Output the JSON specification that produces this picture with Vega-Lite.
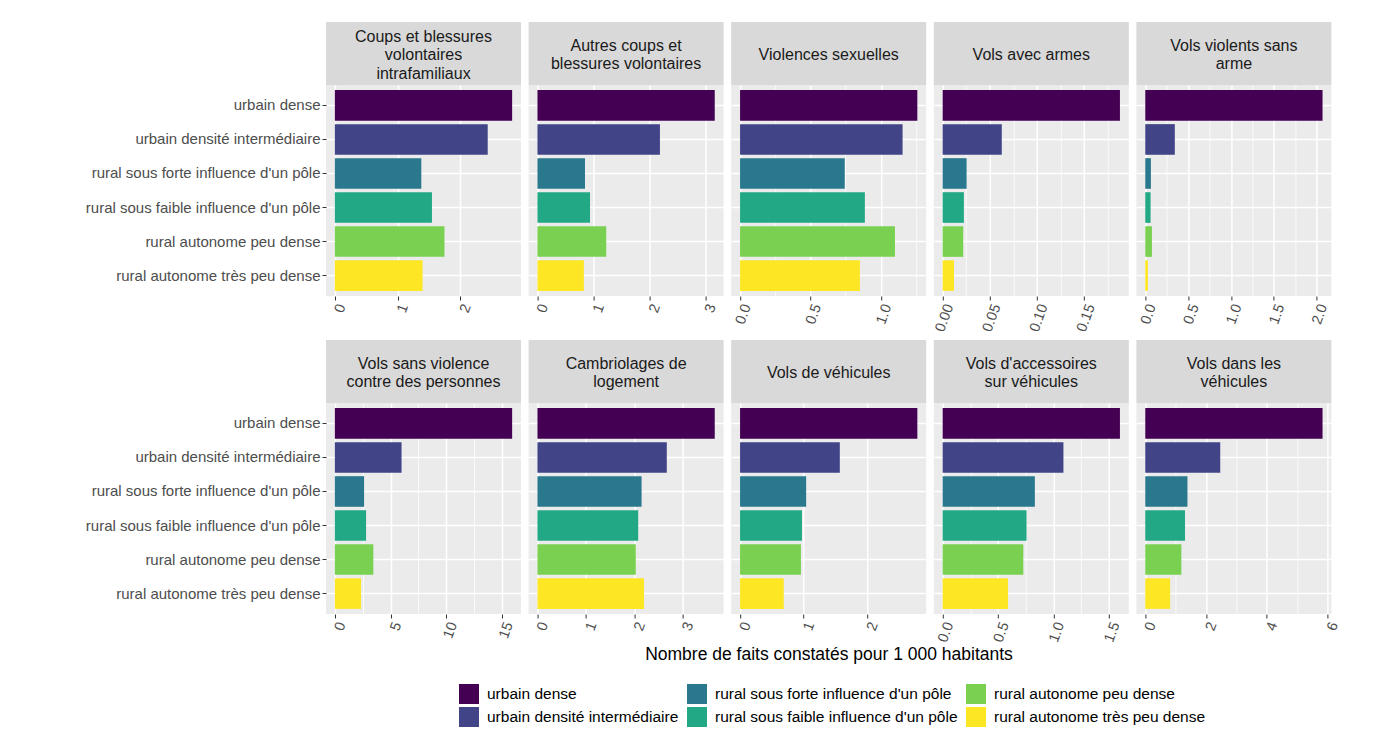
{
"$schema":"https://vega.github.io/schema/vega-lite/v6.json",
"padding":{"left":85,"top":22,"right":5,"bottom":5},
"background":"white",
"data":{"values":[
{"crime":"Coups et blessures volontaires intrafamiliaux","zone":"urbain dense","value":2.83},
{"crime":"Coups et blessures volontaires intrafamiliaux","zone":"urbain densité intermédiaire","value":2.44},
{"crime":"Coups et blessures volontaires intrafamiliaux","zone":"rural sous forte influence d'un pôle","value":1.38},
{"crime":"Coups et blessures volontaires intrafamiliaux","zone":"rural sous faible influence d'un pôle","value":1.55},
{"crime":"Coups et blessures volontaires intrafamiliaux","zone":"rural autonome peu dense","value":1.75},
{"crime":"Coups et blessures volontaires intrafamiliaux","zone":"rural autonome très peu dense","value":1.40},
{"crime":"Autres coups et blessures volontaires","zone":"urbain dense","value":3.17},
{"crime":"Autres coups et blessures volontaires","zone":"urbain densité intermédiaire","value":2.19},
{"crime":"Autres coups et blessures volontaires","zone":"rural sous forte influence d'un pôle","value":0.85},
{"crime":"Autres coups et blessures volontaires","zone":"rural sous faible influence d'un pôle","value":0.94},
{"crime":"Autres coups et blessures volontaires","zone":"rural autonome peu dense","value":1.23},
{"crime":"Autres coups et blessures volontaires","zone":"rural autonome très peu dense","value":0.83},
{"crime":"Violences sexuelles","zone":"urbain dense","value":1.26},
{"crime":"Violences sexuelles","zone":"urbain densité intermédiaire","value":1.155},
{"crime":"Violences sexuelles","zone":"rural sous forte influence d'un pôle","value":0.744},
{"crime":"Violences sexuelles","zone":"rural sous faible influence d'un pôle","value":0.887},
{"crime":"Violences sexuelles","zone":"rural autonome peu dense","value":1.101},
{"crime":"Violences sexuelles","zone":"rural autonome très peu dense","value":0.852},
{"crime":"Vols avec armes","zone":"urbain dense","value":0.188},
{"crime":"Vols avec armes","zone":"urbain densité intermédiaire","value":0.0627},
{"crime":"Vols avec armes","zone":"rural sous forte influence d'un pôle","value":0.0254},
{"crime":"Vols avec armes","zone":"rural sous faible influence d'un pôle","value":0.0225},
{"crime":"Vols avec armes","zone":"rural autonome peu dense","value":0.0218},
{"crime":"Vols avec armes","zone":"rural autonome très peu dense","value":0.012},
{"crime":"Vols violents sans arme","zone":"urbain dense","value":2.07},
{"crime":"Vols violents sans arme","zone":"urbain densité intermédiaire","value":0.345},
{"crime":"Vols violents sans arme","zone":"rural sous forte influence d'un pôle","value":0.066},
{"crime":"Vols violents sans arme","zone":"rural sous faible influence d'un pôle","value":0.062},
{"crime":"Vols violents sans arme","zone":"rural autonome peu dense","value":0.078},
{"crime":"Vols violents sans arme","zone":"rural autonome très peu dense","value":0.031},
{"crime":"Vols sans violence contre des personnes","zone":"urbain dense","value":15.9},
{"crime":"Vols sans violence contre des personnes","zone":"urbain densité intermédiaire","value":5.98},
{"crime":"Vols sans violence contre des personnes","zone":"rural sous forte influence d'un pôle","value":2.62},
{"crime":"Vols sans violence contre des personnes","zone":"rural sous faible influence d'un pôle","value":2.80},
{"crime":"Vols sans violence contre des personnes","zone":"rural autonome peu dense","value":3.45},
{"crime":"Vols sans violence contre des personnes","zone":"rural autonome très peu dense","value":2.35},
{"crime":"Cambriolages de logement","zone":"urbain dense","value":3.66},
{"crime":"Cambriolages de logement","zone":"urbain densité intermédiaire","value":2.67},
{"crime":"Cambriolages de logement","zone":"rural sous forte influence d'un pôle","value":2.15},
{"crime":"Cambriolages de logement","zone":"rural sous faible influence d'un pôle","value":2.08},
{"crime":"Cambriolages de logement","zone":"rural autonome peu dense","value":2.03},
{"crime":"Cambriolages de logement","zone":"rural autonome très peu dense","value":2.20},
{"crime":"Vols de véhicules","zone":"urbain dense","value":2.79},
{"crime":"Vols de véhicules","zone":"urbain densité intermédiaire","value":1.57},
{"crime":"Vols de véhicules","zone":"rural sous forte influence d'un pôle","value":1.04},
{"crime":"Vols de véhicules","zone":"rural sous faible influence d'un pôle","value":0.974},
{"crime":"Vols de véhicules","zone":"rural autonome peu dense","value":0.958},
{"crime":"Vols de véhicules","zone":"rural autonome très peu dense","value":0.688},
{"crime":"Vols d'accessoires sur véhicules","zone":"urbain dense","value":1.60},
{"crime":"Vols d'accessoires sur véhicules","zone":"urbain densité intermédiaire","value":1.09},
{"crime":"Vols d'accessoires sur véhicules","zone":"rural sous forte influence d'un pôle","value":0.832},
{"crime":"Vols d'accessoires sur véhicules","zone":"rural sous faible influence d'un pôle","value":0.757},
{"crime":"Vols d'accessoires sur véhicules","zone":"rural autonome peu dense","value":0.728},
{"crime":"Vols d'accessoires sur véhicules","zone":"rural autonome très peu dense","value":0.590},
{"crime":"Vols dans les véhicules","zone":"urbain dense","value":5.84},
{"crime":"Vols dans les véhicules","zone":"urbain densité intermédiaire","value":2.47},
{"crime":"Vols dans les véhicules","zone":"rural sous forte influence d'un pôle","value":1.39},
{"crime":"Vols dans les véhicules","zone":"rural sous faible influence d'un pôle","value":1.31},
{"crime":"Vols dans les véhicules","zone":"rural autonome peu dense","value":1.19},
{"crime":"Vols dans les véhicules","zone":"rural autonome très peu dense","value":0.82}
]},
"spacing":0,
"vconcat":[
{"hconcat":[
{"width":195,"height":63,"view":{"fill":"#D9D9D9","stroke":null},"transform":[{"filter":{"and":[{"field":"crime","equal":"Coups et blessures volontaires intrafamiliaux"},{"field":"zone","equal":"urbain dense"}]}}],"mark":{"type":"text","fontSize":16,"color":"#1A1A1A","lineHeight":18.5,"align":"center","baseline":"middle","dy":-17},"encoding":{"text":{"value":["Coups et blessures","volontaires","intrafamiliaux"]}}},
{"width":195,"height":63,"view":{"fill":"#D9D9D9","stroke":null},"transform":[{"filter":{"and":[{"field":"crime","equal":"Autres coups et blessures volontaires"},{"field":"zone","equal":"urbain dense"}]}}],"mark":{"type":"text","fontSize":16,"color":"#1A1A1A","lineHeight":18.5,"align":"center","baseline":"middle","dy":-8},"encoding":{"text":{"value":["Autres coups et","blessures volontaires"]}}},
{"width":195,"height":63,"view":{"fill":"#D9D9D9","stroke":null},"transform":[{"filter":{"and":[{"field":"crime","equal":"Violences sexuelles"},{"field":"zone","equal":"urbain dense"}]}}],"mark":{"type":"text","fontSize":16,"color":"#1A1A1A","lineHeight":18.5,"align":"center","baseline":"middle","dy":1},"encoding":{"text":{"value":"Violences sexuelles"}}},
{"width":195,"height":63,"view":{"fill":"#D9D9D9","stroke":null},"transform":[{"filter":{"and":[{"field":"crime","equal":"Vols avec armes"},{"field":"zone","equal":"urbain dense"}]}}],"mark":{"type":"text","fontSize":16,"color":"#1A1A1A","lineHeight":18.5,"align":"center","baseline":"middle","dy":1},"encoding":{"text":{"value":"Vols avec armes"}}},
{"width":195,"height":63,"view":{"fill":"#D9D9D9","stroke":null},"transform":[{"filter":{"and":[{"field":"crime","equal":"Vols violents sans arme"},{"field":"zone","equal":"urbain dense"}]}}],"mark":{"type":"text","fontSize":16,"color":"#1A1A1A","lineHeight":18.5,"align":"center","baseline":"middle","dy":-8},"encoding":{"text":{"value":["Vols violents sans","arme"]}}}
],"spacing":7.6,"bounds":"flush"},
{"hconcat":[
{"width":195,"height":211,"view":{"fill":"#EBEBEB","stroke":null},"transform":[{"filter":{"field":"crime","equal":"Coups et blessures volontaires intrafamiliaux"}}],"mark":{"type":"bar"},
"encoding":{"y":{"field":"zone","type":"nominal","sort":["urbain dense","urbain densité intermédiaire","rural sous forte influence d'un pôle","rural sous faible influence d'un pôle","rural autonome peu dense","rural autonome très peu dense"],"scale":{"paddingInner":0.1,"paddingOuter":0.15},"axis":{"title":null,"bandPosition":0.5}},
"x":{"field":"value","type":"quantitative","scale":{"zero":true,"nice":false,"padding":8.86},"axis":{"title":null,"minExtent":44,"values":[0,0.5,1,1.5,2,2.5],"format":"d","labelExpr":"indexof([0,1,2],datum.value)<0?'':datum.label","tickOpacity":{"condition":{"test":"indexof([0,1,2],datum.value)<0","value":0},"value":1},"gridWidth":{"condition":{"test":"indexof([0,1,2],datum.value)<0","value":0.75},"value":1.5}}},
"color":{"field":"zone","type":"nominal","scale":{"domain":["urbain dense","rural sous forte influence d'un pôle","rural autonome peu dense","urbain densité intermédiaire","rural sous faible influence d'un pôle","rural autonome très peu dense"],"range":["#440154","#2A788E","#7AD151","#414487","#22A884","#FDE725"]},"legend":{"title":null}}}},
{"width":195,"height":211,"view":{"fill":"#EBEBEB","stroke":null},"transform":[{"filter":{"field":"crime","equal":"Autres coups et blessures volontaires"}}],"mark":{"type":"bar"},
"encoding":{"y":{"field":"zone","type":"nominal","sort":["urbain dense","urbain densité intermédiaire","rural sous forte influence d'un pôle","rural sous faible influence d'un pôle","rural autonome peu dense","rural autonome très peu dense"],"scale":{"paddingInner":0.1,"paddingOuter":0.15},"axis":{"title":null,"bandPosition":0.5,"labels":false,"ticks":false}},
"x":{"field":"value","type":"quantitative","scale":{"zero":true,"nice":false,"padding":8.86},"axis":{"title":null,"minExtent":44,"values":[0,0.5,1,1.5,2,2.5,3],"format":"d","labelExpr":"indexof([0,1,2,3],datum.value)<0?'':datum.label","tickOpacity":{"condition":{"test":"indexof([0,1,2,3],datum.value)<0","value":0},"value":1},"gridWidth":{"condition":{"test":"indexof([0,1,2,3],datum.value)<0","value":0.75},"value":1.5}}},
"color":{"field":"zone","type":"nominal","scale":{"domain":["urbain dense","rural sous forte influence d'un pôle","rural autonome peu dense","urbain densité intermédiaire","rural sous faible influence d'un pôle","rural autonome très peu dense"],"range":["#440154","#2A788E","#7AD151","#414487","#22A884","#FDE725"]},"legend":{"title":null}}}},
{"width":195,"height":211,"view":{"fill":"#EBEBEB","stroke":null},"transform":[{"filter":{"field":"crime","equal":"Violences sexuelles"}}],"mark":{"type":"bar"},
"encoding":{"y":{"field":"zone","type":"nominal","sort":["urbain dense","urbain densité intermédiaire","rural sous forte influence d'un pôle","rural sous faible influence d'un pôle","rural autonome peu dense","rural autonome très peu dense"],"scale":{"paddingInner":0.1,"paddingOuter":0.15},"axis":{"title":null,"bandPosition":0.5,"labels":false,"ticks":false}},
"x":{"field":"value","type":"quantitative","scale":{"zero":true,"nice":false,"padding":8.86},"axis":{"title":null,"minExtent":44,"values":[0,0.25,0.5,0.75,1,1.25],"format":".1f","labelExpr":"indexof([0,0.5,1],datum.value)<0?'':datum.label","tickOpacity":{"condition":{"test":"indexof([0,0.5,1],datum.value)<0","value":0},"value":1},"gridWidth":{"condition":{"test":"indexof([0,0.5,1],datum.value)<0","value":0.75},"value":1.5}}},
"color":{"field":"zone","type":"nominal","scale":{"domain":["urbain dense","rural sous forte influence d'un pôle","rural autonome peu dense","urbain densité intermédiaire","rural sous faible influence d'un pôle","rural autonome très peu dense"],"range":["#440154","#2A788E","#7AD151","#414487","#22A884","#FDE725"]},"legend":{"title":null}}}},
{"width":195,"height":211,"view":{"fill":"#EBEBEB","stroke":null},"transform":[{"filter":{"field":"crime","equal":"Vols avec armes"}}],"mark":{"type":"bar"},
"encoding":{"y":{"field":"zone","type":"nominal","sort":["urbain dense","urbain densité intermédiaire","rural sous forte influence d'un pôle","rural sous faible influence d'un pôle","rural autonome peu dense","rural autonome très peu dense"],"scale":{"paddingInner":0.1,"paddingOuter":0.15},"axis":{"title":null,"bandPosition":0.5,"labels":false,"ticks":false}},
"x":{"field":"value","type":"quantitative","scale":{"zero":true,"nice":false,"padding":8.86},"axis":{"title":null,"minExtent":44,"values":[0,0.025,0.05,0.075,0.1,0.125,0.15,0.175],"format":".2f","labelExpr":"indexof([0,0.05,0.1,0.15],datum.value)<0?'':datum.label","tickOpacity":{"condition":{"test":"indexof([0,0.05,0.1,0.15],datum.value)<0","value":0},"value":1},"gridWidth":{"condition":{"test":"indexof([0,0.05,0.1,0.15],datum.value)<0","value":0.75},"value":1.5}}},
"color":{"field":"zone","type":"nominal","scale":{"domain":["urbain dense","rural sous forte influence d'un pôle","rural autonome peu dense","urbain densité intermédiaire","rural sous faible influence d'un pôle","rural autonome très peu dense"],"range":["#440154","#2A788E","#7AD151","#414487","#22A884","#FDE725"]},"legend":{"title":null}}}},
{"width":195,"height":211,"view":{"fill":"#EBEBEB","stroke":null},"transform":[{"filter":{"field":"crime","equal":"Vols violents sans arme"}}],"mark":{"type":"bar"},
"encoding":{"y":{"field":"zone","type":"nominal","sort":["urbain dense","urbain densité intermédiaire","rural sous forte influence d'un pôle","rural sous faible influence d'un pôle","rural autonome peu dense","rural autonome très peu dense"],"scale":{"paddingInner":0.1,"paddingOuter":0.15},"axis":{"title":null,"bandPosition":0.5,"labels":false,"ticks":false}},
"x":{"field":"value","type":"quantitative","scale":{"zero":true,"nice":false,"padding":8.86},"axis":{"title":null,"minExtent":44,"values":[0,0.25,0.5,0.75,1,1.25,1.5,1.75,2],"format":".1f","labelExpr":"indexof([0,0.5,1,1.5,2],datum.value)<0?'':datum.label","tickOpacity":{"condition":{"test":"indexof([0,0.5,1,1.5,2],datum.value)<0","value":0},"value":1},"gridWidth":{"condition":{"test":"indexof([0,0.5,1,1.5,2],datum.value)<0","value":0.75},"value":1.5}}},
"color":{"field":"zone","type":"nominal","scale":{"domain":["urbain dense","rural sous forte influence d'un pôle","rural autonome peu dense","urbain densité intermédiaire","rural sous faible influence d'un pôle","rural autonome très peu dense"],"range":["#440154","#2A788E","#7AD151","#414487","#22A884","#FDE725"]},"legend":{"title":null}}}}
],"spacing":7.6,"bounds":"flush"},
{"hconcat":[
{"width":195,"height":63,"view":{"fill":"#D9D9D9","stroke":null},"transform":[{"filter":{"and":[{"field":"crime","equal":"Vols sans violence contre des personnes"},{"field":"zone","equal":"urbain dense"}]}}],"mark":{"type":"text","fontSize":16,"color":"#1A1A1A","lineHeight":18.5,"align":"center","baseline":"middle","dy":-8},"encoding":{"text":{"value":["Vols sans violence","contre des personnes"]}}},
{"width":195,"height":63,"view":{"fill":"#D9D9D9","stroke":null},"transform":[{"filter":{"and":[{"field":"crime","equal":"Cambriolages de logement"},{"field":"zone","equal":"urbain dense"}]}}],"mark":{"type":"text","fontSize":16,"color":"#1A1A1A","lineHeight":18.5,"align":"center","baseline":"middle","dy":-8},"encoding":{"text":{"value":["Cambriolages de","logement"]}}},
{"width":195,"height":63,"view":{"fill":"#D9D9D9","stroke":null},"transform":[{"filter":{"and":[{"field":"crime","equal":"Vols de véhicules"},{"field":"zone","equal":"urbain dense"}]}}],"mark":{"type":"text","fontSize":16,"color":"#1A1A1A","lineHeight":18.5,"align":"center","baseline":"middle","dy":1},"encoding":{"text":{"value":"Vols de véhicules"}}},
{"width":195,"height":63,"view":{"fill":"#D9D9D9","stroke":null},"transform":[{"filter":{"and":[{"field":"crime","equal":"Vols d'accessoires sur véhicules"},{"field":"zone","equal":"urbain dense"}]}}],"mark":{"type":"text","fontSize":16,"color":"#1A1A1A","lineHeight":18.5,"align":"center","baseline":"middle","dy":-8},"encoding":{"text":{"value":["Vols d'accessoires","sur véhicules"]}}},
{"width":195,"height":63,"view":{"fill":"#D9D9D9","stroke":null},"transform":[{"filter":{"and":[{"field":"crime","equal":"Vols dans les véhicules"},{"field":"zone","equal":"urbain dense"}]}}],"mark":{"type":"text","fontSize":16,"color":"#1A1A1A","lineHeight":18.5,"align":"center","baseline":"middle","dy":-8},"encoding":{"text":{"value":["Vols dans les","véhicules"]}}}
],"spacing":7.6,"bounds":"flush"},
{"hconcat":[
{"width":195,"height":211,"view":{"fill":"#EBEBEB","stroke":null},"transform":[{"filter":{"field":"crime","equal":"Vols sans violence contre des personnes"}}],"mark":{"type":"bar"},
"encoding":{"y":{"field":"zone","type":"nominal","sort":["urbain dense","urbain densité intermédiaire","rural sous forte influence d'un pôle","rural sous faible influence d'un pôle","rural autonome peu dense","rural autonome très peu dense"],"scale":{"paddingInner":0.1,"paddingOuter":0.15},"axis":{"title":null,"bandPosition":0.5}},
"x":{"field":"value","type":"quantitative","scale":{"zero":true,"nice":false,"padding":8.86},"axis":{"title":null,"minExtent":31,"values":[0,2.5,5,7.5,10,12.5,15],"format":"d","labelExpr":"indexof([0,5,10,15],datum.value)<0?'':datum.label","tickOpacity":{"condition":{"test":"indexof([0,5,10,15],datum.value)<0","value":0},"value":1},"gridWidth":{"condition":{"test":"indexof([0,5,10,15],datum.value)<0","value":0.75},"value":1.5}}},
"color":{"field":"zone","type":"nominal","scale":{"domain":["urbain dense","rural sous forte influence d'un pôle","rural autonome peu dense","urbain densité intermédiaire","rural sous faible influence d'un pôle","rural autonome très peu dense"],"range":["#440154","#2A788E","#7AD151","#414487","#22A884","#FDE725"]},"legend":{"title":null}}}},
{"width":195,"height":211,"view":{"fill":"#EBEBEB","stroke":null},"transform":[{"filter":{"field":"crime","equal":"Cambriolages de logement"}}],"mark":{"type":"bar"},
"encoding":{"y":{"field":"zone","type":"nominal","sort":["urbain dense","urbain densité intermédiaire","rural sous forte influence d'un pôle","rural sous faible influence d'un pôle","rural autonome peu dense","rural autonome très peu dense"],"scale":{"paddingInner":0.1,"paddingOuter":0.15},"axis":{"title":null,"bandPosition":0.5,"labels":false,"ticks":false}},
"x":{"field":"value","type":"quantitative","scale":{"zero":true,"nice":false,"padding":8.86},"axis":{"title":null,"minExtent":31,"values":[0,0.5,1,1.5,2,2.5,3,3.5],"format":"d","labelExpr":"indexof([0,1,2,3],datum.value)<0?'':datum.label","tickOpacity":{"condition":{"test":"indexof([0,1,2,3],datum.value)<0","value":0},"value":1},"gridWidth":{"condition":{"test":"indexof([0,1,2,3],datum.value)<0","value":0.75},"value":1.5}}},
"color":{"field":"zone","type":"nominal","scale":{"domain":["urbain dense","rural sous forte influence d'un pôle","rural autonome peu dense","urbain densité intermédiaire","rural sous faible influence d'un pôle","rural autonome très peu dense"],"range":["#440154","#2A788E","#7AD151","#414487","#22A884","#FDE725"]},"legend":{"title":null}}}},
{"width":195,"height":211,"view":{"fill":"#EBEBEB","stroke":null},"transform":[{"filter":{"field":"crime","equal":"Vols de véhicules"}}],"mark":{"type":"bar"},
"encoding":{"y":{"field":"zone","type":"nominal","sort":["urbain dense","urbain densité intermédiaire","rural sous forte influence d'un pôle","rural sous faible influence d'un pôle","rural autonome peu dense","rural autonome très peu dense"],"scale":{"paddingInner":0.1,"paddingOuter":0.15},"axis":{"title":null,"bandPosition":0.5,"labels":false,"ticks":false}},
"x":{"field":"value","type":"quantitative","scale":{"zero":true,"nice":false,"padding":8.86},"axis":{"title":null,"minExtent":31,"values":[0,0.5,1,1.5,2,2.5],"format":"d","labelExpr":"indexof([0,1,2],datum.value)<0?'':datum.label","tickOpacity":{"condition":{"test":"indexof([0,1,2],datum.value)<0","value":0},"value":1},"gridWidth":{"condition":{"test":"indexof([0,1,2],datum.value)<0","value":0.75},"value":1.5}}},
"color":{"field":"zone","type":"nominal","scale":{"domain":["urbain dense","rural sous forte influence d'un pôle","rural autonome peu dense","urbain densité intermédiaire","rural sous faible influence d'un pôle","rural autonome très peu dense"],"range":["#440154","#2A788E","#7AD151","#414487","#22A884","#FDE725"]},"legend":{"title":null}}}},
{"width":195,"height":211,"view":{"fill":"#EBEBEB","stroke":null},"transform":[{"filter":{"field":"crime","equal":"Vols d'accessoires sur véhicules"}}],"mark":{"type":"bar"},
"encoding":{"y":{"field":"zone","type":"nominal","sort":["urbain dense","urbain densité intermédiaire","rural sous forte influence d'un pôle","rural sous faible influence d'un pôle","rural autonome peu dense","rural autonome très peu dense"],"scale":{"paddingInner":0.1,"paddingOuter":0.15},"axis":{"title":null,"bandPosition":0.5,"labels":false,"ticks":false}},
"x":{"field":"value","type":"quantitative","scale":{"zero":true,"nice":false,"padding":8.86},"axis":{"title":null,"minExtent":31,"values":[0,0.25,0.5,0.75,1,1.25,1.5],"format":".1f","labelExpr":"indexof([0,0.5,1,1.5],datum.value)<0?'':datum.label","tickOpacity":{"condition":{"test":"indexof([0,0.5,1,1.5],datum.value)<0","value":0},"value":1},"gridWidth":{"condition":{"test":"indexof([0,0.5,1,1.5],datum.value)<0","value":0.75},"value":1.5}}},
"color":{"field":"zone","type":"nominal","scale":{"domain":["urbain dense","rural sous forte influence d'un pôle","rural autonome peu dense","urbain densité intermédiaire","rural sous faible influence d'un pôle","rural autonome très peu dense"],"range":["#440154","#2A788E","#7AD151","#414487","#22A884","#FDE725"]},"legend":{"title":null}}}},
{"width":195,"height":211,"view":{"fill":"#EBEBEB","stroke":null},"transform":[{"filter":{"field":"crime","equal":"Vols dans les véhicules"}}],"mark":{"type":"bar"},
"encoding":{"y":{"field":"zone","type":"nominal","sort":["urbain dense","urbain densité intermédiaire","rural sous forte influence d'un pôle","rural sous faible influence d'un pôle","rural autonome peu dense","rural autonome très peu dense"],"scale":{"paddingInner":0.1,"paddingOuter":0.15},"axis":{"title":null,"bandPosition":0.5,"labels":false,"ticks":false}},
"x":{"field":"value","type":"quantitative","scale":{"zero":true,"nice":false,"padding":8.86},"axis":{"title":null,"minExtent":31,"values":[0,1,2,3,4,5,6],"format":"d","labelExpr":"indexof([0,2,4,6],datum.value)<0?'':datum.label","tickOpacity":{"condition":{"test":"indexof([0,2,4,6],datum.value)<0","value":0},"value":1},"gridWidth":{"condition":{"test":"indexof([0,2,4,6],datum.value)<0","value":0.75},"value":1.5}}},
"color":{"field":"zone","type":"nominal","scale":{"domain":["urbain dense","rural sous forte influence d'un pôle","rural autonome peu dense","urbain densité intermédiaire","rural sous faible influence d'un pôle","rural autonome très peu dense"],"range":["#440154","#2A788E","#7AD151","#414487","#22A884","#FDE725"]},"legend":{"title":null}}}}
],"spacing":7.6,"bounds":"flush"},
{"width":1006,"height":1,"view":{"stroke":null,"fill":null},"transform":[{"filter":{"and":[{"field":"crime","equal":"Vols de véhicules"},{"field":"zone","equal":"urbain dense"}]}}],"mark":{"type":"text","fontSize":17.5,"color":"#000000","align":"center","baseline":"middle"},"encoding":{"text":{"value":"Nombre de faits constatés pour 1 000 habitants"}}}
],
"config":{
"font":"Liberation Sans",
"view":{"stroke":null},
"axisX":{"domain":false,"labelFontSize":14.5,"labelColor":"#4D4D4D","labelAngle":-70,"labelBaseline":"top","labelAlign":"right","labelPadding":2,"tickColor":"#333333","tickSize":4,"tickWidth":1,"grid":true,"gridColor":"#FFFFFF","labelOverlap":false,"labelFlush":false},
"axisY":{"domain":false,"labelFontSize":15,"labelColor":"#4D4D4D","labelPadding":2,"tickColor":"#333333","tickSize":4,"tickWidth":1,"grid":true,"gridColor":"#FFFFFF","gridWidth":1.5,"labelLimit":400},
"legend":{"orient":"none","legendX":133,"legendY":662,"columns":3,"direction":"horizontal","symbolType":"square","symbolSize":400,"symbolStrokeWidth":0,"labelFontSize":15.5,"labelColor":"#000000","labelOffset":8,"columnPadding":8,"rowPadding":3,"labelLimit":400,"padding":0}
}
}
